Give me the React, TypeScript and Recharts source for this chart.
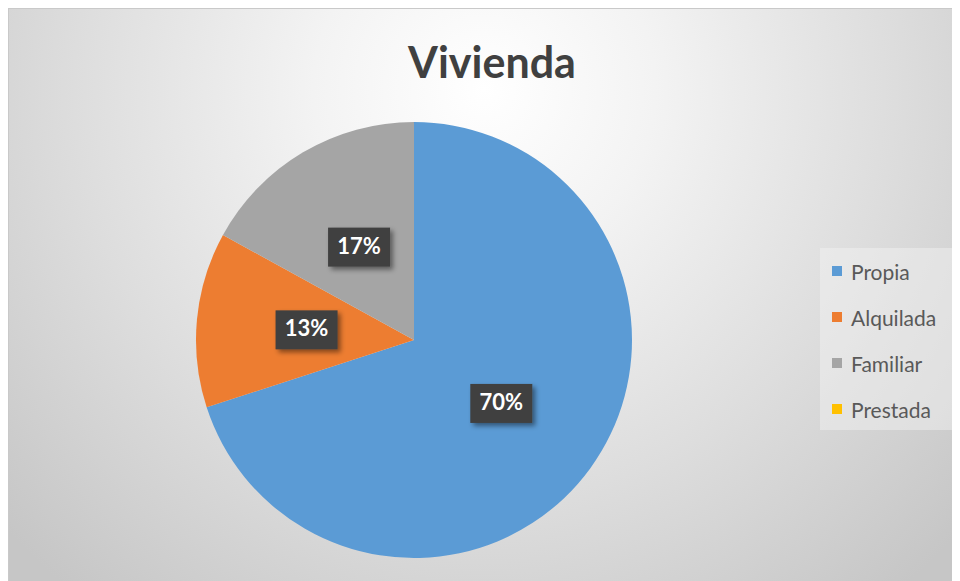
import { Cell, Legend, Pie, PieChart } from "recharts";

const categories = ["Propia", "Alquilada", "Familiar", "Prestada"];
const shares = [70, 13, 17, 0];
const colors = ["#5B9BD5", "#ED7D31", "#A5A5A5", "#FFC000"];

const chartTitle = "Vivienda";

const data = categories.map((name, i) => ({ name, value: shares[i] }));

const RAD = Math.PI / 180;

function renderLabel(props: any) {
  const { cx, cy, midAngle, outerRadius, percent } = props;
  if (!percent) return null;
  const r = outerRadius * 0.495;
  const x = cx + r * Math.cos(-midAngle * RAD);
  const y = cy + r * Math.sin(-midAngle * RAD);
  const text = `${Math.round(percent * 100)}%`;
  const w = 62;
  const h = 39;
  return (
    <g>
      <rect x={x - w / 2} y={y - h / 2} width={w} height={h} fill="#404040" filter="url(#lblShadow)" />
      <text
        x={x}
        y={y + 1}
        fill="#ffffff"
        textAnchor="middle"
        dominantBaseline="middle"
        fontFamily="Lato, 'Open Sans', sans-serif"
        fontWeight={700}
        fontSize={22}
      >
        {text}
      </text>
    </g>
  );
}

function LegendBox() {
  return (
    <div
      style={{
        background: "rgba(244,244,244,0.45)",
        width: 132,
        height: 182,
        boxSizing: "border-box",
      }}
    >
      {categories.map((name, i) => (
        <div
          key={name}
          style={{ display: "flex", alignItems: "center", height: 46, paddingLeft: 12 }}
        >
          <span style={{ width: 10, height: 10, background: colors[i], marginRight: 9, display: "inline-block" }} />
          <span style={{ fontFamily: "Lato, 'Open Sans', sans-serif", fontSize: 21, color: "#595959" }}>{name}</span>
        </div>
      ))}
    </div>
  );
}

export default function App() {
  return (
    <div
      style={{
        position: "relative",
        width: 952,
        height: 573,
        borderTop: "1px solid #c9c9c9",
        borderLeft: "1px solid #c9c9c9",
        boxSizing: "border-box",
        background: "radial-gradient(circle at 50% 14%, #ffffff 0%, #f3f3f3 25%, #dddddd 60%, #c6c6c6 95%)",
      }}
    >
      <style>{"html,body{overflow:hidden}"}</style>
      <svg width={0} height={0} style={{ position: "absolute" }}>
        <defs>
          <filter id="lblShadow" x="-30%" y="-30%" width="170%" height="170%">
            <feDropShadow dx={3} dy={3} stdDeviation={2.5} floodColor="#000" floodOpacity={0.45} />
          </filter>
        </defs>
      </svg>
      <div
        style={{
          position: "absolute",
          left: 0,
          width: 966,
          top: 27,
          textAlign: "center",
          fontFamily: "Lato, 'Open Sans', sans-serif",
          fontWeight: 700,
          fontSize: 43,
          color: "#404040",
        }}
      >
        {chartTitle}
      </div>
      <PieChart width={951} height={572} style={{ position: "absolute", left: 0, top: 0 }}>
        <Pie
          data={data}
          dataKey="value"
          nameKey="name"
          cx={400}
          cy={326}
          outerRadius={218}
          startAngle={90}
          endAngle={-270}
          stroke="none"
          label={renderLabel}
          labelLine={false}
          isAnimationActive={false}
        >
          {data.map((d, i) => (
            <Cell key={d.name} fill={colors[i]} />
          ))}
        </Pie>
        <Legend
          layout="vertical"
          verticalAlign="top"
          align="right"
          content={() => <LegendBox />}
          wrapperStyle={{ top: 239, left: 811, width: 132, right: "auto" }}
        />
      </PieChart>
    </div>
  );
}
